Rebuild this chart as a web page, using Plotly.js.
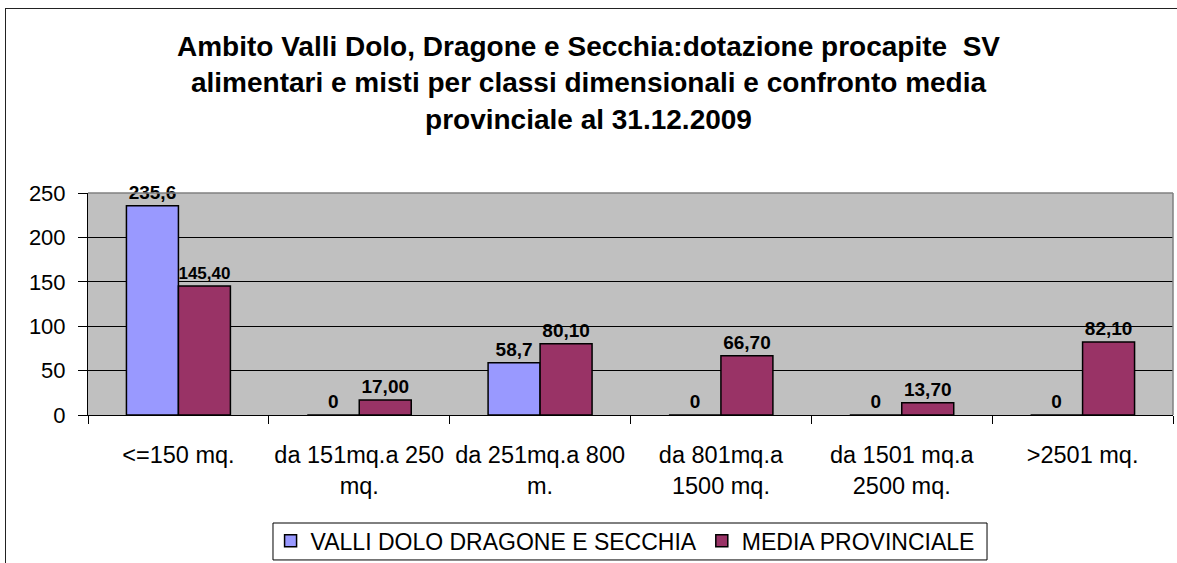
<!DOCTYPE html>
<html>
<head>
<meta charset="utf-8">
<script src="https://cdn.plot.ly/plotly-3.0.1.min.js"></script>
<style>
html,body{margin:0;padding:0;background:#fff;}
#wrap{position:relative;width:1177px;height:563px;overflow:hidden;}
#chart{width:1177px;height:563px;}
#frame{position:absolute;left:5px;top:8px;width:1300px;height:700px;border:1.5px solid #222;pointer-events:none;box-sizing:border-box;}
</style>
</head>
<body>
<div id="wrap"><div id="chart"></div><div id="frame"></div></div>
<script>
var categories = ["<=150 mq.", "da 151mq.a 250<br>mq.", "da 251mq.a 800<br>m.", "da 801mq.a<br>1500 mq.", "da 1501 mq.a<br>2500 mq.", ">2501 mq."];
var seriesNames = ["VALLI DOLO DRAGONE E SECCHIA", "MEDIA PROVINCIALE"];
var valliValues = [235.6, 0, 58.7, 0, 0, 0];
var mediaValues = [145.40, 17.00, 80.10, 66.70, 13.70, 82.10];
var yTickVals = [0, 50, 100, 150, 200, 250];

function fmt(v, d) {
  if (v === 0) return "0";
  return v.toFixed(d).replace(".", ",");
}

var FONT = "Liberation Sans, Arial, sans-serif";
var labelFont = {family: FONT, size: 19, color: "#000", weight: "bold"};

var traces = [
  {
    type: "bar", name: seriesNames[0], x: categories, y: valliValues,
    text: valliValues.map(function(v){return fmt(v,1);}),
    textposition: "outside", cliponaxis: false, textfont: labelFont,
    marker: {color: "#9999ff", line: {color: "#000", width: 1.5}},
    hoverinfo: "none"
  },
  {
    type: "bar", name: seriesNames[1], x: categories, y: mediaValues,
    text: mediaValues.map(function(v){return fmt(v,2);}),
    textposition: "outside", cliponaxis: false, textfont: labelFont,
    marker: {color: "#993366", line: {color: "#000", width: 1.5}},
    hoverinfo: "none"
  }
];

var layout = {
  width: 1177, height: 563,
  margin: {l: 88, r: 4, t: 193, b: 148, autoexpand: false},
  paper_bgcolor: "#fff",
  plot_bgcolor: "#c0c0c0",
  barmode: "group",
  bargap: 0.425,
  bargroupgap: 0,
  showlegend: true,
  font: {family: FONT, color: "#000"},
  title: {
    text: "<b>Ambito Valli Dolo, Dragone e Secchia:dotazione procapite  SV<br>alimentari e misti per classi dimensionali e confronto media<br>provinciale al 31.12.2009</b>",
    font: {family: FONT, size: 28, color: "#000"},
    x: 0.5, xref: "container", xanchor: "center",
    y: 0.901, yref: "container", yanchor: "top"
  },
  xaxis: {
    type: "category",
    tickson: "boundaries",
    tickangle: 0,
    ticks: "outside", ticklen: 8, tickcolor: "#000", tickwidth: 1,
    ticklabelstandoff: 19,
    showline: true, linecolor: "#000", linewidth: 1,
    showgrid: false,
    automargin: false,
    tickfont: {family: FONT, size: 23.5, color: "#000"},
    fixedrange: true
  },
  yaxis: {
    range: [0, 250],
    tickvals: yTickVals,
    ticks: "outside", ticklen: 9, tickcolor: "#000", tickwidth: 1,
    ticklabelstandoff: 8,
    showline: true, linecolor: "#000", linewidth: 1,
    showgrid: true, gridcolor: "#000", gridwidth: 1,
    zeroline: false,
    automargin: false,
    tickfont: {family: FONT, size: 22, color: "#000"},
    fixedrange: true
  },
  shapes: [
    {type: "line", xref: "paper", yref: "paper", x0: 0, x1: 1, y0: 1, y1: 1, line: {color: "#808080", width: 1.5}},
    {type: "line", xref: "paper", yref: "paper", x0: 1, x1: 1, y0: 0, y1: 1, line: {color: "#808080", width: 1.5}},
    {type: "rect", xref: "paper", yref: "paper", x0: 0.1705, x1: 0.8286, y0: -0.653, y1: -0.4865,
     line: {color: "#000", width: 1}, fillcolor: "rgba(0,0,0,0)", layer: "above"}
  ],
  legend: {
    orientation: "h",
    x: 0.495, xanchor: "center",
    y: -0.567, yanchor: "middle",
    borderwidth: 0,
    bgcolor: "rgba(0,0,0,0)",
    font: {family: FONT, size: 23, color: "#000"},
    itemwidth: 30,
    traceorder: "normal"
  }
};

Plotly.newPlot("chart", traces, layout, {displayModeBar: false, staticPlot: true});
</script>
</body>
</html>
